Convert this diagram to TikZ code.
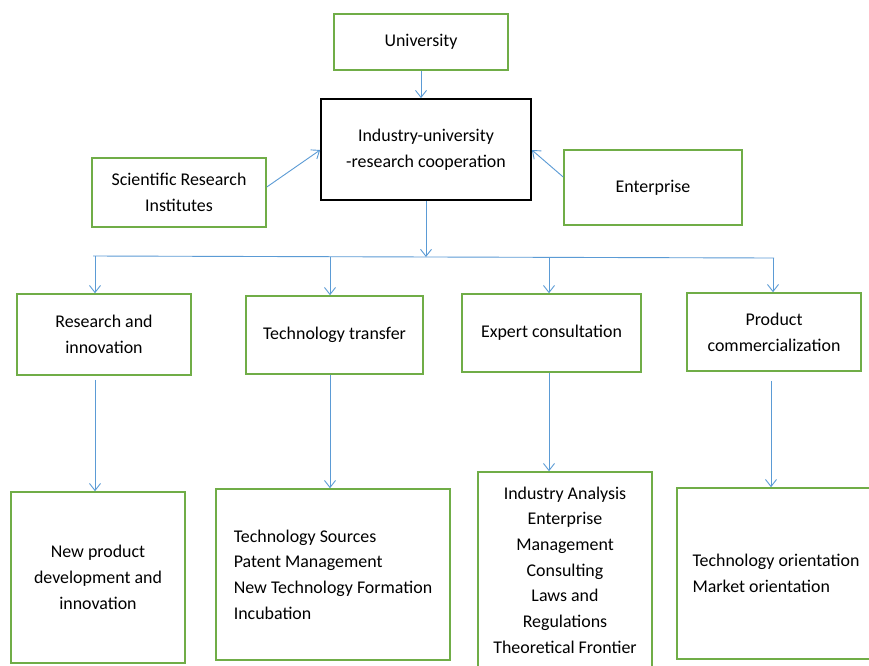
\documentclass[tikz,border=0pt]{standalone}
\usepackage{fontspec}
\setmainfont{Carlito}
\usetikzlibrary{arrows.meta}
\definecolor{boxgreen}{RGB}{112,173,71}
\definecolor{arrowblue}{RGB}{91,155,213}
\begin{document}
\begin{tikzpicture}[x=1pt,y=-1pt,
  box/.style={draw=boxgreen, line width=1.6pt, inner sep=0pt, align=center,
    font=\fontsize{17.9}{25.7}\selectfont},
  corebox/.style={box, draw=black, line width=1.8pt},
  conn/.style={draw=arrowblue, line width=0.9pt},
  arr/.style={conn, -{Straight Barb[length=7pt,width=11pt,line width=0.9pt]}}
]
\useasboundingbox[fill=white] (0,0) rectangle (869,665);

% top level
\node[box, minimum width=174pt, minimum height=56pt] (uni) at (421,42) {University};
\node[corebox, minimum width=210pt, minimum height=101pt] (core) at (426,149.5)
  {Industry-university\\-research cooperation};
\node[box, minimum width=174pt, minimum height=69pt] (sri) at (179,192.5)
  {Scientific Research\\Institutes};
\node[box, minimum width=178pt, minimum height=75pt] (ent) at (653,187.5) {Enterprise};

% second row
\node[box, minimum width=174pt, minimum height=81pt] (ri) at (104,334.5)
  {Research and\\innovation};
\node[box, minimum width=177pt, minimum height=78pt] (tt) at (334.5,335) {Technology transfer};
\node[box, minimum width=179pt, minimum height=78pt] (ec) at (551.5,333) {Expert consultation};
\node[box, minimum width=174pt, minimum height=78pt] (pc) at (774,332)
  {Product\\commercialization};

% third row
\node[box, minimum width=174pt, minimum height=171pt] (np) at (98,577.5)
  {New product\\development and\\innovation};
\node[box, align=left, minimum width=234pt, minimum height=171pt] (ts) at (333,574.5)
  {Technology Sources\\Patent Management\\New Technology Formation\\Incubation};
\node[box, minimum width=174pt, minimum height=196pt] (ia) at (565,570)
  {Industry Analysis\\Enterprise\\Management\\Consulting\\Laws and\\Regulations\\Theoretical Frontier};
\node[box, align=left, minimum width=198pt, minimum height=171pt] (to) at (776,573.5)
  {Technology orientation\\Market orientation};

% bus coordinates
\coordinate (busL) at (93,256);
\coordinate (busM) at (426,257);
\coordinate (busR) at (774,258);
\coordinate (b1) at (95,256);
\coordinate (b2) at (330,256.7);
\coordinate (b3) at (549,257.4);
\coordinate (b4) at (773,258);

% connectors
\draw[arr] (uni.south) -- (core.north -| uni.south);
\draw[arr] (sri.east |- 0,187) -- (core.west |- 0,150);
\draw[arr] (ent.west |- 0,177) -- (core.east |- 0,150);
\draw[arr] (core.south) -- (busM);
\draw[conn] (busL) -- (busR);
\draw[arr] (b1) -- (b1 |- ri.north);
\draw[arr] (b2) -- (b2 |- tt.north);
\draw[arr] (b3) -- (b3 |- ec.north);
\draw[arr] (b4) -- (b4 |- pc.north);

\draw[arr, shorten <=4pt] (ri.south -| 95,0) -- (np.north -| 95,0);
\draw[arr] (tt.south -| 330,0) -- (ts.north -| 330,0);
\draw[arr] (ec.south -| 549,0) -- (ia.north -| 549,0);
\draw[arr, shorten <=9pt] (pc.south -| 771,0) -- (to.north -| 771,0);
\end{tikzpicture}
\end{document}
